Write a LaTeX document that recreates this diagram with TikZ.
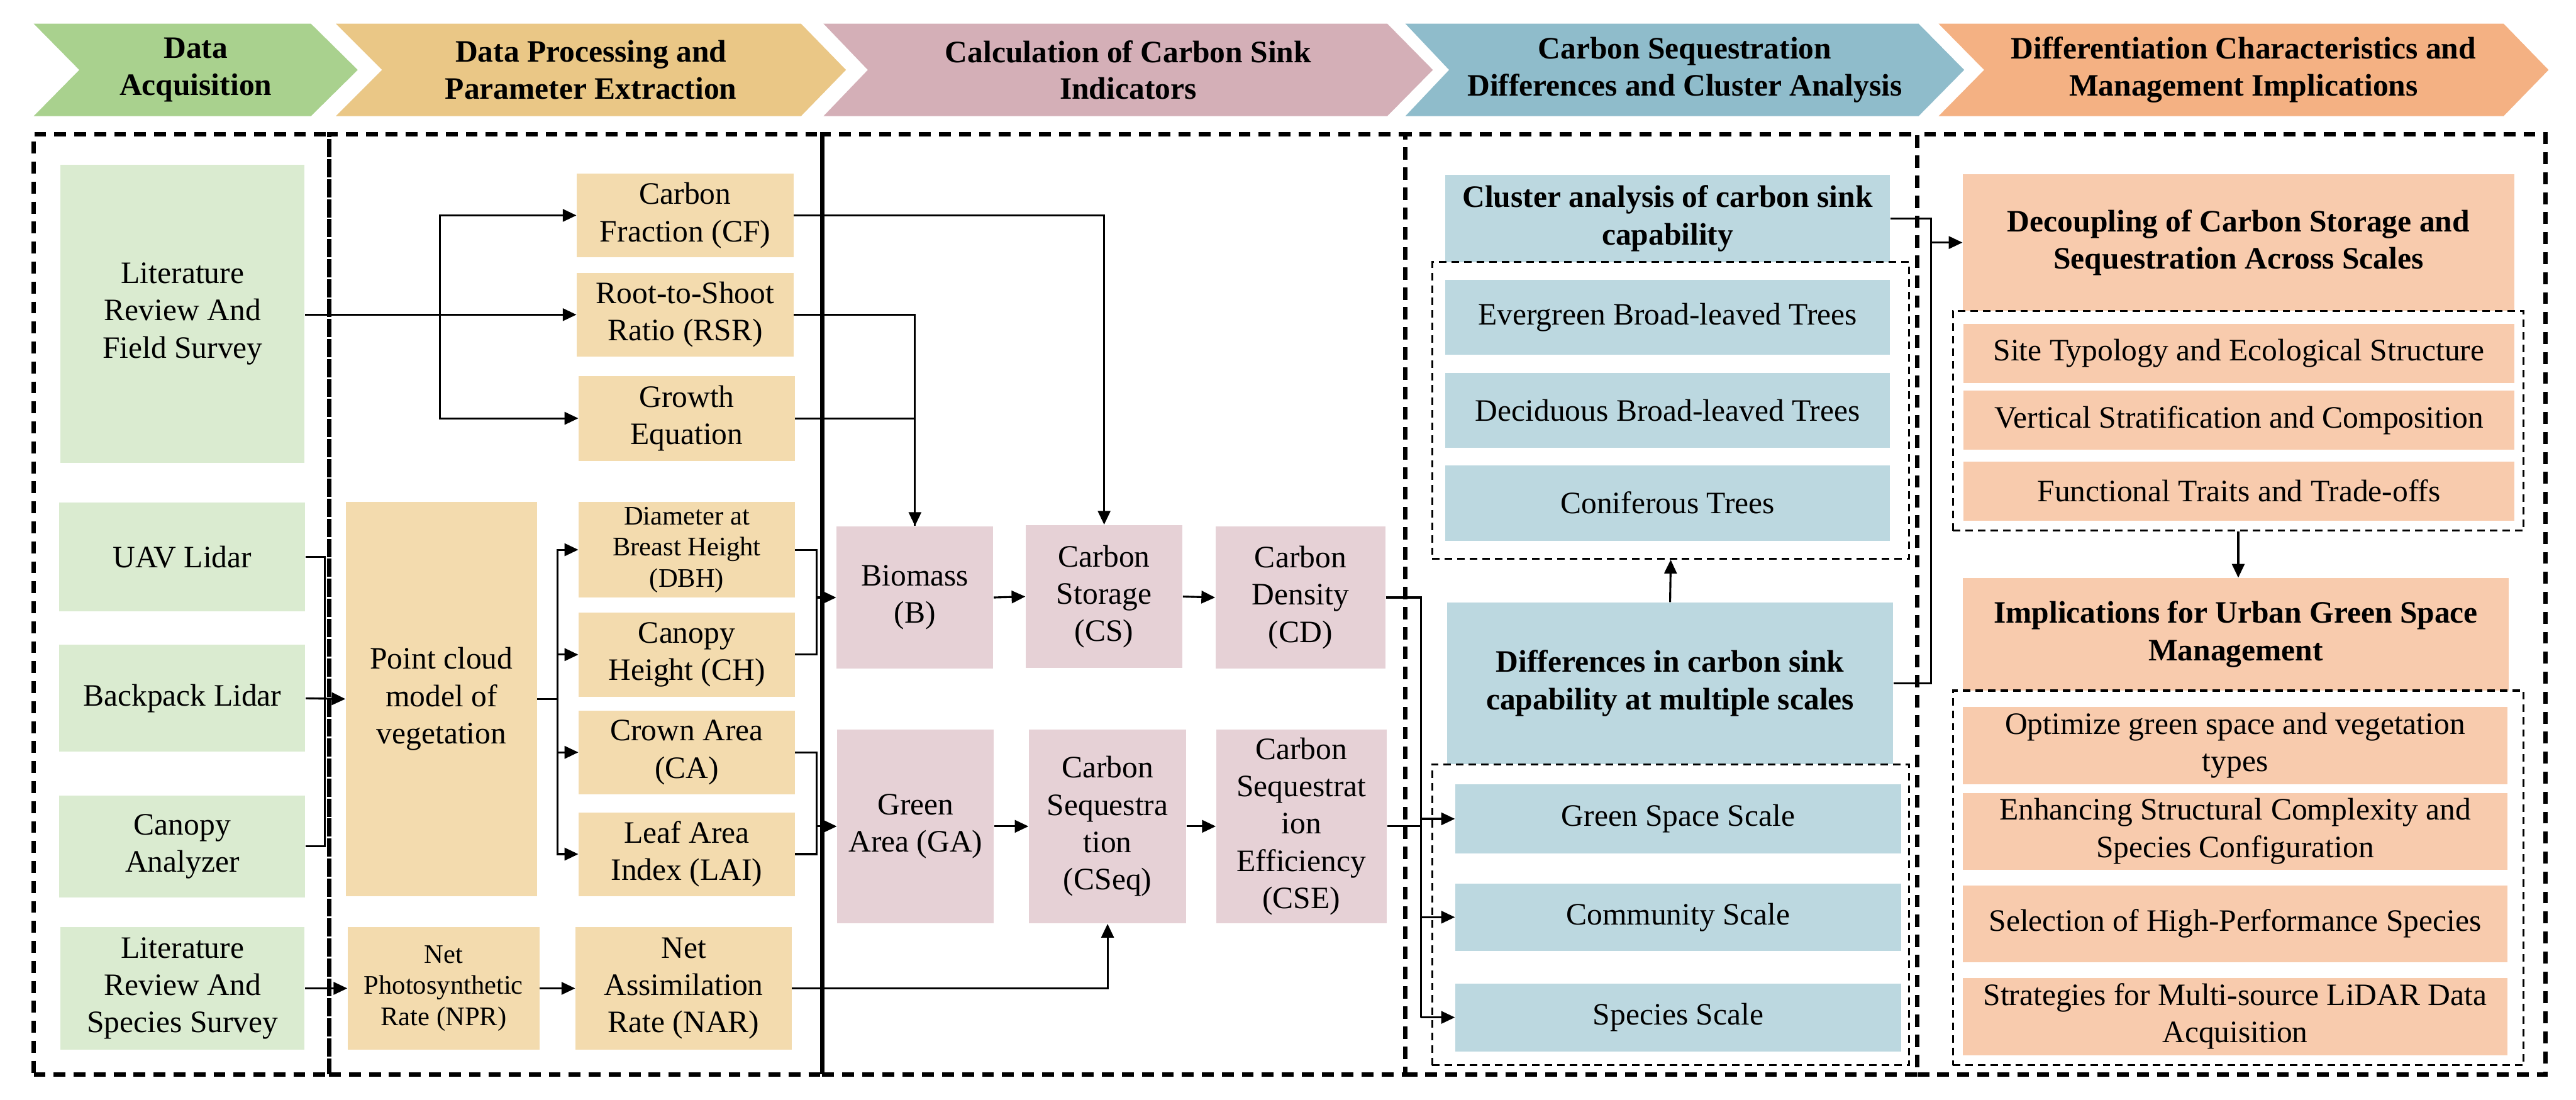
\documentclass[tikz,border=0pt]{standalone}
\usepackage{fontspec}
\setmainfont{Liberation Serif}
\usetikzlibrary{arrows.meta}
\definecolor{hdgreen}{HTML}{A9D18E}
\definecolor{hdtan}{HTML}{EAC786}
\definecolor{hdpink}{HTML}{D4AFB7}
\definecolor{hdblue}{HTML}{8FBCCB}
\definecolor{hdorange}{HTML}{F4B183}
\definecolor{bxgreen}{HTML}{DAEBD0}
\definecolor{bxtan}{HTML}{F3DBAE}
\definecolor{bxpink}{HTML}{E6D1D6}
\definecolor{bxblue}{HTML}{BCD8E0}
\definecolor{bxorange}{HTML}{F8CBAD}

\begin{document}
\begin{tikzpicture}[
  >={Triangle[length=2.2mm,width=2mm]},
  conn/.style={line width=0.9pt},
  hdr/.style={font=\fontsize{14.2}{16.8}\selectfont\bfseries, align=center},
  box/.style={inner sep=1pt, align=center, font=\fontsize{14.2}{17}\selectfont},
  small/.style={font=\fontsize{12.2}{14.2}\selectfont},
  bold/.style={font=\fontsize{14.2}{17}\selectfont\bfseries},
  acq/.style={box, fill=bxgreen},
  proc/.style={box, fill=bxtan},
  calc/.style={box, fill=bxpink},
  clus/.style={box, fill=bxblue},
  mgmt/.style={box, fill=bxorange},
  col/.style={draw, line width=2pt, dash pattern=on 0.19cm off 0.13cm},
  grp/.style={draw, line width=0.9pt, dash pattern=on 0.12cm off 0.08cm}
]
\useasboundingbox (0,0) rectangle (41.26,17.61);

% stage arrows
\fill[hdgreen] (0.54,17.23) -- (4.98,17.23) -- (5.73,16.49) -- (4.98,15.75) -- (0.54,15.75) -- (1.27,16.49) -- cycle;
\fill[hdtan] (5.38,17.23) -- (12.83,17.23) -- (13.55,16.49) -- (12.83,15.75) -- (5.38,15.75) -- (6.12,16.49) -- cycle;
\fill[hdpink] (13.19,17.23) -- (22.22,17.23) -- (22.95,16.49) -- (22.22,15.75) -- (13.19,15.75) -- (13.90,16.49) -- cycle;
\fill[hdblue] (22.51,17.23) -- (30.73,17.23) -- (31.46,16.49) -- (30.73,15.75) -- (22.51,15.75) -- (23.21,16.49) -- cycle;
\fill[hdorange] (31.05,17.23) -- (40.10,17.23) -- (40.82,16.49) -- (40.10,15.75) -- (31.05,15.75) -- (31.78,16.49) -- cycle;
\node[hdr] (h1) at (3.135,16.49) {Data\\Acquisition};
\node[hdr] (h2) at (9.465,16.49) {Data Processing and\\Parameter Extraction};
\node[hdr] (h3) at (18.07,16.49) {Calculation of Carbon Sink\\Indicators};
\node[hdr] (h4) at (26.985,16.49) {Carbon Sequestration\\Differences and Cluster Analysis};
\node[hdr] (h5) at (35.935,16.49) {Differentiation Characteristics and\\Management Implications};

% data acquisition
\node[acq, minimum width=3.91cm, minimum height=4.77cm] (litF) at (2.925,12.585) {Literature\\Review And\\Field Survey};
\node[acq, minimum width=3.94cm, minimum height=1.74cm] (uav) at (2.92,8.69) {UAV Lidar};
\node[acq, minimum width=3.94cm, minimum height=1.71cm] (back) at (2.92,6.425) {Backpack Lidar};
\node[acq, minimum width=3.94cm, minimum height=1.63cm] (cana) at (2.92,4.055) {Canopy\\Analyzer};
\node[acq, minimum width=3.91cm, minimum height=1.96cm] (litS) at (2.925,1.78) {Literature\\Review And\\Species Survey};

% processing and parameters
\node[proc, minimum width=3.47cm, minimum height=1.34cm] (cf) at (10.975,14.16) {Carbon\\Fraction (CF)};
\node[proc, minimum width=3.47cm, minimum height=1.34cm] (rsr) at (10.975,12.57) {Root-to-Shoot\\Ratio (RSR)};
\node[proc, minimum width=3.46cm, minimum height=1.36cm] (geq) at (11.0,10.91) {Growth\\Equation};
\node[proc, minimum width=3.06cm, minimum height=6.31cm] (pcm) at (7.07,6.415) {Point cloud\\model of\\vegetation};
\node[proc, small, minimum width=3.46cm, minimum height=1.53cm] (dbh) at (11.0,8.805) {Diameter at\\Breast Height\\(DBH)};
\node[proc, minimum width=3.46cm, minimum height=1.35cm] (ch) at (11.0,7.125) {Canopy\\Height (CH)};
\node[proc, minimum width=3.46cm, minimum height=1.34cm] (ca) at (11.0,5.56) {Crown Area\\(CA)};
\node[proc, minimum width=3.46cm, minimum height=1.34cm] (lai) at (11.0,3.93) {Leaf Area\\Index (LAI)};
\node[proc, small, minimum width=3.07cm, minimum height=1.96cm] (npr) at (7.105,1.78) {Net\\Photosynthetic\\Rate (NPR)};
\node[proc, minimum width=3.46cm, minimum height=1.96cm] (nar) at (10.95,1.78) {Net\\Assimilation\\Rate (NAR)};

% carbon sink indicators
\node[calc, minimum width=2.51cm, minimum height=2.28cm] (bio) at (14.655,8.04) {Biomass\\(B)};
\node[calc, minimum width=2.51cm, minimum height=2.29cm] (cs) at (17.685,8.055) {Carbon\\Storage\\(CS)};
\node[calc, minimum width=2.72cm, minimum height=2.28cm] (cd) at (20.83,8.04) {Carbon\\Density\\(CD)};
\node[calc, minimum width=2.51cm, minimum height=3.11cm] (ga) at (14.665,4.375) {Green\\Area (GA)};
\node[calc, minimum width=2.52cm, minimum height=3.11cm] (cseq) at (17.74,4.375) {Carbon\\Sequestra\\tion\\(CSeq)};
\node[calc, minimum width=2.73cm, minimum height=3.11cm] (cse) at (20.845,4.375) {Carbon\\Sequestrat\\ion\\Efficiency\\(CSE)};

% differences and clusters
\node[clus, bold, minimum width=7.12cm, minimum height=1.40cm] (clu) at (26.71,14.11) {Cluster analysis of carbon sink\\capability};
\node[clus, minimum width=7.12cm, minimum height=1.20cm] (ever) at (26.71,12.53) {Evergreen Broad-leaved Trees};
\node[clus, minimum width=7.12cm, minimum height=1.20cm] (deci) at (26.71,11.04) {Deciduous Broad-leaved Trees};
\node[clus, minimum width=7.12cm, minimum height=1.21cm] (coni) at (26.71,9.555) {Coniferous Trees};
\node[clus, bold, minimum width=7.14cm, minimum height=2.59cm] (diff) at (26.75,6.665) {Differences in carbon sink\\capability at multiple scales};
\node[clus, minimum width=7.14cm, minimum height=1.11cm] (gss) at (26.88,4.495) {Green Space Scale};
\node[clus, minimum width=7.14cm, minimum height=1.08cm] (coms) at (26.88,2.92) {Community Scale};
\node[clus, minimum width=7.14cm, minimum height=1.09cm] (sps) at (26.88,1.315) {Species Scale};

% implications
\node[mgmt, bold, minimum width=8.83cm, minimum height=2.19cm] (dec) at (35.855,13.725) {Decoupling of Carbon Storage and\\Sequestration Across Scales};
\node[mgmt, minimum width=8.82cm, minimum height=0.94cm] (site) at (35.86,11.95) {Site Typology and Ecological Structure};
\node[mgmt, minimum width=8.82cm, minimum height=0.94cm] (vert) at (35.86,10.88) {Vertical Stratification and Composition};
\node[mgmt, minimum width=8.82cm, minimum height=0.95cm] (func) at (35.86,9.745) {Functional Traits and Trade-offs};
\node[mgmt, bold, minimum width=8.74cm, minimum height=1.80cm] (impl) at (35.81,7.45) {Implications for Urban Green Space\\Management};
\node[mgmt, minimum width=8.72cm, minimum height=1.24cm] (opt) at (35.80,5.67) {Optimize green space and vegetation\\types};
\node[mgmt, minimum width=8.72cm, minimum height=1.23cm] (enh) at (35.80,4.295) {Enhancing Structural Complexity and\\Species Configuration};
\node[mgmt, minimum width=8.72cm, minimum height=1.23cm] (sel) at (35.80,2.815) {Selection of High-Performance Species};
\node[mgmt, minimum width=8.72cm, minimum height=1.24cm] (strat) at (35.80,1.33) {Strategies for Multi-source LiDAR Data\\Acquisition};

% dashed groups
\node[grp, minimum width=7.64cm, minimum height=4.75cm] (grpA) at (26.76,11.035) {};
\node[grp, minimum width=7.64cm, minimum height=4.82cm] (grpB) at (26.76,2.96) {};
\node[grp, minimum width=9.14cm, minimum height=3.52cm] (grpC) at (35.85,10.87) {};
\node[grp, minimum width=9.14cm, minimum height=6.00cm] (grpD) at (35.85,3.55) {};

% connectors
\coordinate (j1) at (7.05,12.57);
\draw[conn] (litF.east |- rsr) -- (j1);
\draw[conn,->] (j1) -- (rsr.west);
\draw[conn,->] (j1) |- (cf.west);
\draw[conn,->] (j1) |- (geq.west);
\draw[conn,->] (cf.east) -| (cs.north);
\draw[conn,->] (rsr.east) -| (bio.north);
\draw[conn] (geq.east) -| (bio.north);

\coordinate (j2) at (5.20,6.42);
\draw[conn] (uav.east) -| (j2);
\draw[conn] (cana.east) -| (j2);
\draw[conn,->] (back.east) -- (pcm.west);

\coordinate (j3) at (8.93,6.415);
\draw[conn] (pcm.east) -- (j3);
\draw[conn,->] (j3) |- (dbh.west);
\draw[conn,->] (j3) |- (ch.west);
\draw[conn,->] (j3) |- (ca.west);
\draw[conn,->] (j3) |- (lai.west);

\coordinate (j4) at (13.08,8.04);
\draw[conn] (dbh.east) -| (j4);
\draw[conn] (ch.east) -| (j4);
\draw[conn,->] (j4) -- (bio.west);
\coordinate (j5) at (13.08,4.375);
\draw[conn] (ca.east) -| (j5);
\draw[conn] (lai.east) -| (j5);
\draw[conn,->] (j5) -- (ga.west);

\draw[conn,->] (litS.east) -- (npr.west);
\draw[conn,->] (npr.east) -- (nar.west);
\draw[conn,->] (nar.east) -| (cseq.south);
\draw[conn,->] (bio.east) -- (cs.west);
\draw[conn,->] (cs.east) -- (cd.west);
\draw[conn,->] (ga.east) -- (cseq.west);
\draw[conn,->] (cseq.east) -- (cse.west);

\coordinate (j6) at (22.76,1.315);
\draw[conn] (cd.east) -| (j6);
\draw[conn] (cse.east) -- (cse.east -| j6);
\draw[conn,->] (j6 |- gss) -- (gss.west);
\draw[conn,->] (j6 |- coms) -- (coms.west);
\draw[conn,->] (j6) -- (sps.west);

\draw[conn,->] (diff.north) -- (grpA.south);
\coordinate (j7) at (30.93,13.725);
\draw[conn] (clu.east) -| (j7);
\draw[conn] (diff.east) -| (j7);
\draw[conn,->] (j7) -- (dec.west);
\draw[conn,->] (grpC.south) -- (grpC.south |- impl.north);

% stage frames
\node[col, minimum width=4.73cm, minimum height=15.06cm] (col1) at (2.905,7.93) {};
\node[col, minimum width=7.90cm, minimum height=15.06cm] (col2) at (9.22,7.93) {};
\node[col, minimum width=9.34cm, minimum height=15.06cm] (col3) at (17.84,7.93) {};
\node[col, minimum width=8.20cm, minimum height=15.06cm] (col4) at (26.61,7.93) {};
\node[col, minimum width=10.06cm, minimum height=15.06cm] (col5) at (35.74,7.93) {};
\end{tikzpicture}
\end{document}
